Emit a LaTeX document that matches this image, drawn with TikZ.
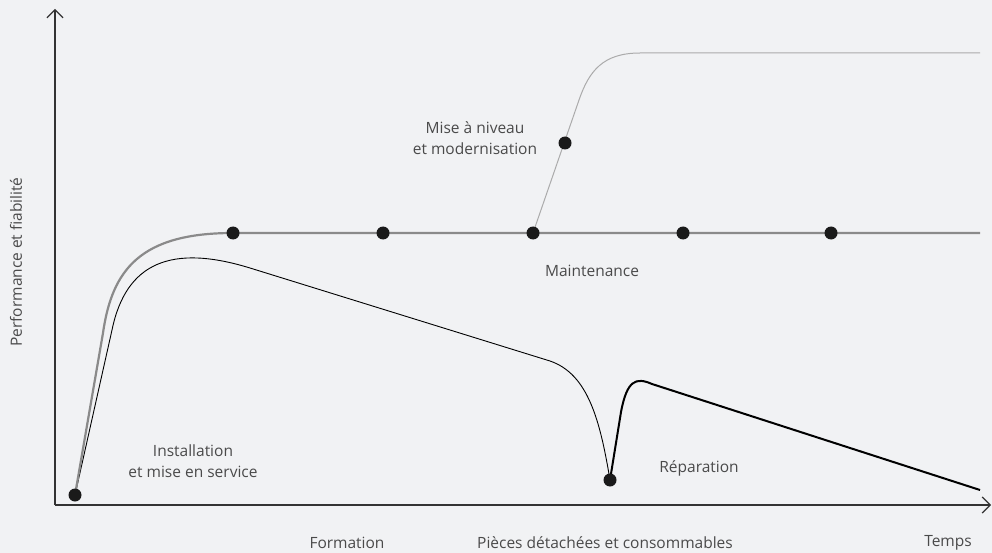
\documentclass[tikz,border=0pt]{standalone}
\usepackage{fontspec}
\setmainfont{Open Sans}
\usetikzlibrary{arrows.meta}
\definecolor{bg}{HTML}{F1F2F4}
\definecolor{txt}{HTML}{4A4A4A}
\definecolor{axis}{HTML}{333333}
\definecolor{dotc}{HTML}{1A1A1A}
\definecolor{maincurve}{HTML}{8A8A8A}
\definecolor{upcurve}{HTML}{ABABAB}
\begin{document}
\begin{tikzpicture}[x=1pt,y=-1pt,
  lbl/.style={text=txt,font=\fontsize{15.5}{21}\selectfont,inner sep=0pt,align=center},
  axisline/.style={draw=axis,line width=1.2pt},
  dotn/.style={circle,fill=dotc,inner sep=0pt,minimum size=13pt},
  tip/.style={-{Straight Barb[length=8pt,width=16pt,line width=1.2pt]}}]
\fill[bg] (0,0) rectangle (992,553);
\useasboundingbox (0,0) rectangle (992,553);
% axes
\coordinate (O) at (55,505);
\coordinate (ytop) at (55,9);
\coordinate (xend) at (991,505);
\draw[axisline,tip] (O) -- (ytop);
\draw[axisline,tip] (O) -- (xend);
% dots (positions)
\coordinate (p0) at (75,495);
\coordinate (m1) at (233,233);
\coordinate (m2) at (383,233);
\coordinate (m3) at (533,233);
\coordinate (m4) at (683,233);
\coordinate (m5) at (831,233);
\coordinate (up) at (565,143);
\coordinate (dip) at (610,480);
% upgrade curve
\draw[upcurve,line width=1pt] (m3) -- (579,100) .. controls (589,71) and (603,53) .. (640,53) -- (980,53);
% degrading curve
\draw[black,line width=0.9pt] (p0) -- (112,330) .. controls (126,262) and (172,244) .. (250,268) -- (550,361) .. controls (588,374) and (600,420) .. (dip);
\draw[black,line width=2pt] (dip) -- (621,412) .. controls (627,380) and (636,377) .. (652,384) -- (980,490);
% maintenance curve
\draw[maincurve,line width=2.2pt] (p0) -- (103,333) .. controls (112,270) and (140,233) .. (m1) -- (980,233);
% dots
\foreach \p in {p0,m1,m2,m3,m4,m5,up,dip} \node[dotn] (d\p) at (\p) {};
% labels
\node[lbl,rotate=90] (ylab) at (16,262) {Performance et fiabilité};
\node[lbl] (form) at (347,543) {Formation};
\node[lbl] (pieces) at (605,543) {Pièces détachées et consommables};
\node[lbl] (temps) at (948,543) {Temps};
\node[lbl] (inst) at (193,461) {Installation\\et mise en service};
\node[lbl] (mise) at (475,138) {Mise à niveau\\et modernisation};
\node[lbl] (maint) at (592,271) {Maintenance};
\node[lbl] (rep) at (699,468) {Réparation};
\end{tikzpicture}
\end{document}
